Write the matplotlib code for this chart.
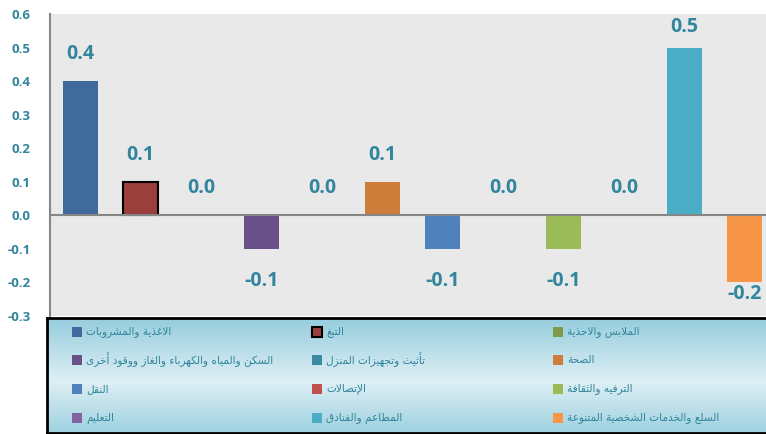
import numpy as np
import matplotlib
matplotlib.use("Agg")
import matplotlib.pyplot as plt
from matplotlib.patches import Rectangle
from matplotlib.ticker import MultipleLocator, FormatStrFormatter

plt.rcParams['font.family'] = ['Open Sans', 'DejaVu Sans']
plt.rcParams['axes.unicode_minus'] = False

# بيانات الرسم
categories = [
    "الاغذية والمشروبات",
    "التبغ",
    "الملابس والاحذية",
    "السكن والمياه والكهرباء والغاز ووقود أخرى",
    "تأثيث وتجهيزات المنزل",
    "الصحة",
    "النقل",
    "الإتصالات",
    "الترفيه والثقافة",
    "التعليم",
    "المطاعم والفنادق",
    "السلع والخدمات الشخصية المتنوعة",
]
values = [0.4, 0.1, 0.0, -0.1, 0.0, 0.1, -0.1, 0.0, -0.1, 0.0, 0.5, -0.2]
colors = ["#3F6A9B", "#9B3F3C", "#7F9A48", "#6A5088", "#3A8AA3", "#CD7C3A",
          "#4F81BD", "#C0504D", "#9BBB59", "#8064A2", "#4BACC6", "#F79646"]
edge_colors = ["none", "black"] + ["none"] * 10

TEAL = "#31859C"
GREY = "#868686"

# matplotlib no hace el "shaping" del arabe, asi que usamos las formas de presentacion
FORMS = {
    'ء': (0xFE80, 0), 'آ': (0xFE81, 1), 'أ': (0xFE83, 1), 'ؤ': (0xFE85, 1), 'إ': (0xFE87, 1),
    'ئ': (0xFE89, 2), 'ا': (0xFE8D, 1), 'ب': (0xFE8F, 2), 'ة': (0xFE93, 1), 'ت': (0xFE95, 2),
    'ث': (0xFE99, 2), 'ج': (0xFE9D, 2), 'ح': (0xFEA1, 2), 'خ': (0xFEA5, 2), 'د': (0xFEA9, 1),
    'ذ': (0xFEAB, 1), 'ر': (0xFEAD, 1), 'ز': (0xFEAF, 1), 'س': (0xFEB1, 2), 'ش': (0xFEB5, 2),
    'ص': (0xFEB9, 2), 'ض': (0xFEBD, 2), 'ط': (0xFEC1, 2), 'ظ': (0xFEC5, 2), 'ع': (0xFEC9, 2),
    'غ': (0xFECD, 2), 'ف': (0xFED1, 2), 'ق': (0xFED5, 2), 'ك': (0xFED9, 2), 'ل': (0xFEDD, 2),
    'م': (0xFEE1, 2), 'ن': (0xFEE5, 2), 'ه': (0xFEE9, 2), 'و': (0xFEED, 1), 'ى': (0xFEEF, 1),
    'ي': (0xFEF1, 2),
}
LAM_ALEF = {'آ': 0xFEF5, 'أ': 0xFEF7, 'إ': 0xFEF9, 'ا': 0xFEFB}


def shape_arabic(text):
    out = []
    i = 0
    while i < len(text):
        ch = text[i]
        if ch not in FORMS:
            out.append(ch)
            i += 1
            continue
        prev = text[i - 1] if i > 0 else ''
        joins_prev = prev in FORMS and FORMS[prev][1] == 2 and FORMS[ch][1] > 0
        if ch == 'ل' and i + 1 < len(text) and text[i + 1] in LAM_ALEF:
            out.append(chr(LAM_ALEF[text[i + 1]] + (1 if joins_prev else 0)))
            i += 2
            continue
        base, kind = FORMS[ch]
        nxt = text[i + 1] if i + 1 < len(text) else ''
        joins_next = kind == 2 and nxt in FORMS and FORMS[nxt][1] > 0
        if kind == 0:
            form = 0
        elif joins_prev and joins_next:
            form = 3
        elif joins_prev:
            form = 1
        elif joins_next:
            form = 2
        else:
            form = 0
        out.append(chr(base + form))
        i += 1
    return ''.join(reversed(out))


W, H = 766, 434
fig = plt.figure(figsize=(W / 100, H / 100), dpi=100)
fig.patch.set_facecolor("white")

ax = fig.add_axes([50 / W, 1 - 316 / H, (W - 50) / W, (316 - 14) / H])
ax.set_facecolor("#E9E9E9")

x = np.arange(len(values))
bars = ax.bar(x, values, width=0.58, color=colors, edgecolor=edge_colors, linewidth=1.5)

ymin, ymax = -0.3, 0.6
for b, v in zip(bars, values):
    # etiquetas fuera de la barra, pero dentro del area del grafico
    if v >= 0:
        ly = min(v + 0.08, ymax - 0.04)
    else:
        ly = max(v - 0.095, ymin + 0.065)
    ax.text(b.get_x() + b.get_width() / 2, ly, f"{v:.1f}",
            ha="center", va="center", fontsize=14, fontweight="bold", color=TEAL)

ax.axhline(0, color=GREY, lw=1.5)
ax.set_xlim(-0.5, 11.35)
ax.set_ylim(ymin, ymax)
ax.yaxis.set_major_locator(MultipleLocator(0.1))
ax.yaxis.set_major_formatter(FormatStrFormatter("%.1f"))
ax.tick_params(axis="y", length=0, pad=14, labelsize=9.5, labelcolor=TEAL)
for lab in ax.get_yticklabels():
    lab.set_fontweight("bold")
ax.set_xticks([])
for s in ["top", "right", "bottom"]:
    ax.spines[s].set_visible(False)
ax.spines["left"].set_color(GREY)
ax.spines["left"].set_linewidth(1.5)

# leyenda con fondo degradado
lax = fig.add_axes([47 / W, 1 - 433 / H, (W - 47) / W, (433 - 318) / H])
grad = np.array([[150, 205, 221], [222, 239, 245], [158, 209, 224]]) / 255
t = np.linspace(0, 1, 200)
img = np.stack([np.interp(t, [0, 0.55, 1], grad[:, k]) for k in range(3)], axis=1)[:, None, :]
lax.imshow(img, extent=[47, W, 433, 318], aspect="auto", interpolation="bilinear")
lax.set_xlim(47, W)
lax.set_ylim(433, 318)
lax.set_xticks([])
lax.set_yticks([])
for s in lax.spines.values():
    s.set_color("black")
    s.set_linewidth(2)
lax.spines["right"].set_visible(False)

col_x = [72, 312, 553]
row_y = [332, 360, 389, 418]
for i, (cat, c, ec) in enumerate(zip(categories, colors, edge_colors)):
    cx = col_x[i % 3]
    cy = row_y[i // 3]
    lax.add_patch(Rectangle((cx, cy - 5), 10, 10, facecolor=c, edgecolor=ec, linewidth=1.5))
    lax.text(cx + 14, cy, shape_arabic(cat), ha="left", va="center",
             fontsize=7.6, color=TEAL, family=["DejaVu Sans"])

fig.savefig("out.png", dpi=100)
